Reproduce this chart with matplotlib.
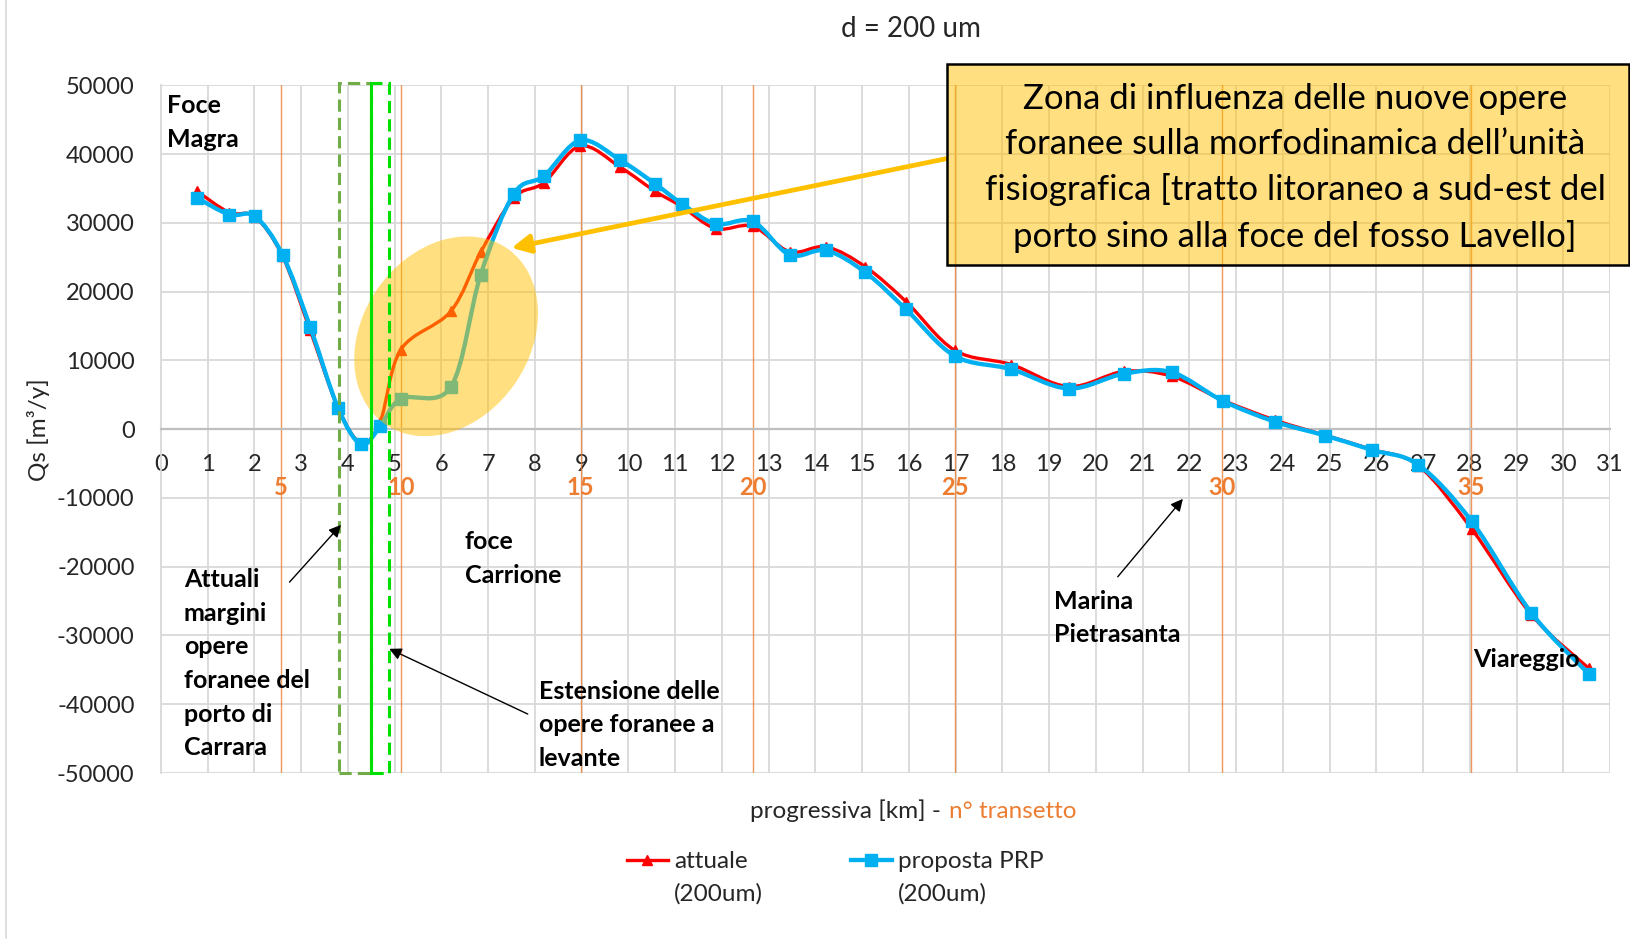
import numpy as np
import matplotlib
matplotlib.use('Agg')
import matplotlib.pyplot as plt
from matplotlib.path import Path
from matplotlib.patches import PathPatch, Ellipse, Rectangle
from matplotlib.lines import Line2D
import matplotlib.transforms as mtransforms

plt.rcParams['font.family'] = ['Lato', 'DejaVu Sans']

# ---------------- data ----------------
km = [0.77, 1.46, 2.01, 2.60, 3.19, 3.79, 4.28, 4.69, 5.13, 6.20, 6.84, 7.55,
      8.19, 8.97, 9.83, 10.57, 11.14, 11.87, 12.66, 13.45, 14.23, 15.07, 15.94,
      16.98, 18.19, 19.42, 20.60, 21.62, 22.72, 23.84, 24.91, 25.90, 26.90,
      28.04, 29.32, 30.55]
attuale = [34600, 31500, 30900, 25150, 14400, 3060, -2000, 1100, 11550, 17140,
           25730, 33640, 35830, 41170, 38070, 34600, 32380, 29160, 29500, 25800,
           26500, 23600, 18550, 11470, 9400, 6200, 8400, 7700, 4200, 1300, -900,
           -2950, -5300, -14500, -27000, -34800]
proposta = [33640, 31200, 30950, 25350, 14900, 3060, -2200, 400, 4420, 6120,
            22480, 34220, 36800, 42000, 39100, 35680, 32800, 29850, 30200, 25350,
            25980, 22800, 17420, 10650, 8720, 5910, 8060, 8280, 4100, 1070, -940,
            -3020, -5190, -13400, -26740, -35620]
transetti = [5, 10, 15, 20, 25, 30, 35]
transetti_km = [2.56, 5.13, 8.98, 12.66, 16.98, 22.70, 28.03]
xticks = list(range(0, 32))
yticks = list(range(-50000, 50001, 10000))

RED = '#FF0000'
BLUE = '#00B0F0'
ORANGE = '#ED7D31'
TXT = '#262626'


def smooth_path(x, y):
    pts = np.column_stack([x, y]).astype(float)
    n = len(pts)
    verts = [pts[0]]
    codes = [Path.MOVETO]
    for i in range(n - 1):
        p0 = pts[i - 1] if i > 0 else pts[i]
        p1 = pts[i]
        p2 = pts[i + 1]
        p3 = pts[i + 2] if i + 2 < n else pts[i + 1]
        verts += [p1 + (p2 - p0) / 6.0, p2 - (p3 - p1) / 6.0, p2]
        codes += [Path.CURVE4] * 3
    return Path(verts, codes)


W, H = 1631, 943
fig = plt.figure(figsize=(W / 100, H / 100), dpi=100)
L, R, T, B = 161, 1610, 85.3, 773
ax = fig.add_axes([L / W, 1 - B / H, (R - L) / W, (B - T) / H])
ax.set_xlim(0, 31)
ax.set_ylim(-50000, 50000)
ax.set_xticks(xticks)
ax.set_yticks(yticks)
ax.set_xticklabels([str(v) for v in xticks])
ax.set_yticklabels([str(v) for v in yticks])
ax.grid(True, color='#D9D9D9', lw=1.3)
ax.set_axisbelow(True)
for s in ['top', 'right']:
    ax.spines[s].set_visible(False)
ax.spines['left'].set_color('#D9D9D9')
ax.spines['left'].set_linewidth(1.3)
ax.spines['bottom'].set_position(('data', 0))
ax.spines['bottom'].set_color('#BFBFBF')
ax.spines['bottom'].set_linewidth(1.6)
ax.tick_params(axis='both', length=0, labelsize=17, labelcolor=TXT)
ax.tick_params(axis='x', pad=18)
ax.tick_params(axis='y', pad=19)

# transect lines + labels
for t, xk in zip(transetti, transetti_km):
    ax.axvline(xk, color=ORANGE, lw=1.0, alpha=0.8, zorder=1)
    ax.text(xk, -8500, str(t), color=ORANGE, fontsize=17, fontweight='bold',
            ha='center', va='center', zorder=6)

# series (smoothed)
ax.add_patch(PathPatch(smooth_path(km, attuale), facecolor='none', edgecolor=RED,
                       lw=2.4, zorder=3, capstyle='round', joinstyle='round'))
ax.plot(km, attuale, linestyle='none', marker='^', color=RED, markersize=7, zorder=3)
ax.add_patch(PathPatch(smooth_path(km, proposta), facecolor='none', edgecolor=BLUE,
                       lw=3.1, zorder=4, capstyle='round', joinstyle='round'))
ax.plot(km, proposta, linestyle='none', marker='s', color=BLUE, markersize=8.5, zorder=4)

# highlighted ellipse (semi transparent)
trans = fig.dpi_scale_trans + mtransforms.ScaledTranslation(6.1, 13500, ax.transData)
ell = Ellipse((0, 0), width=2.14, height=1.67, angle=55, transform=trans,
              facecolor='#FFC000', alpha=0.5, edgecolor='none', zorder=5)
ax.add_patch(ell)

# dashed rectangles
ax.add_patch(Rectangle((3.81, -50000), 0.68, 100300, fill=False, edgecolor='#70AD47',
                       lw=2.2, linestyle=(0, (4, 2)), zorder=6, clip_on=False))
ax.add_patch(Rectangle((4.50, -50000), 0.38, 100300, fill=False, edgecolor='#00E000',
                       lw=2.2, linestyle=(0, (4, 2)), zorder=6, clip_on=False))
ax.plot([4.50, 4.50], [-50000, 50300], color='#00E000', lw=2.2, zorder=6, clip_on=False)

# annotation texts
bold = dict(fontsize=18, fontweight='bold', color='black', zorder=7)
LS = 1.56
ax.text(0.13, 44600, 'Foce\nMagra', ha='left', va='center', linespacing=LS, **bold)
ax.text(0.49, -34100, 'Attuali\nmargini\nopere\nforanee del\nporto di\nCarrara',
        ha='left', va='center', linespacing=LS, **bold)
ax.text(6.50, -18830, 'foce\nCarrione', ha='left', va='center', linespacing=LS, **bold)
ax.text(8.08, -43000, 'Estensione delle\nopere foranee a\nlevante', ha='left',
        va='center', linespacing=LS, **bold)
ax.text(19.11, -27460, 'Marina\nPietrasanta', ha='left', va='center', linespacing=LS, **bold)
ax.text(28.08, -33430, 'Viareggio', ha='left', va='center', **bold)

arrow_kw = dict(arrowstyle='-|>', color='black', lw=1.0, mutation_scale=18)
ax.annotate('', xy=(3.89, -13620), xytext=(2.71, -22540), arrowprops=arrow_kw, zorder=7)
ax.annotate('', xy=(4.83, -31770), xytext=(7.90, -41600), arrowprops=arrow_kw, zorder=7)
ax.annotate('', xy=(21.90, -9830), xytext=(20.43, -21780), arrowprops=arrow_kw, zorder=7)

# yellow arrow to the ellipse
ax.annotate('', xy=(7.50, 26350), xytext=(16.80, 39330),
            arrowprops=dict(arrowstyle='-|>', color='#FFC000', lw=3.4,
                            mutation_scale=28, shrinkA=0, shrinkB=0),
            annotation_clip=False, zorder=8)

# callout box
bx0, by0, bx1, by1 = 946.6, 64.5, 1629.5, 265.0
box = Rectangle((bx0 / W, 1 - by1 / H), (bx1 - bx0) / W, (by1 - by0) / H,
                transform=fig.transFigure, facecolor=(1.0, 0.753, 0.0, 0.5),
                edgecolor='black', lw=1.8, zorder=10)
fig.patches.append(box)
fig.text((bx0 + bx1) / 2 / W + 7 / W, 1 - (by0 + by1) / 2 / H - 3 / H,
         'Zona di influenza delle nuove opere\nforanee sulla morfodinamica dell\u2019unit\u00e0\n'
         'fisiografica [tratto litoraneo a sud-est del\nporto sino alla foce del fosso Lavello]',
         ha='center', va='center', fontsize=25, color='black', linespacing=1.5, zorder=11)

# title & axis labels
fig.text(911 / W, 1 - 29 / H, 'd = 200 um', ha='center', va='center', fontsize=20, color=TXT)
fig.text(941 / W, 1 - 811 / H, 'progressiva [km] -', ha='right', va='center',
         fontsize=17.5, color=TXT)
fig.text(949 / W, 1 - 811 / H, 'n\u00b0 transetto', ha='left', va='center',
         fontsize=17.5, color=ORANGE)
fig.text(38.5 / W, 1 - 429.6 / H, 'Qs [m\u00b3/y]', ha='center', va='center',
         rotation=90, fontsize=17.5, color=TXT)

# legend (manual key)
def key(x0, x1, y, color, marker, ms, lw, label):
    fig.add_artist(Line2D([x0 / W, x1 / W], [1 - y / H, 1 - y / H], color=color, lw=lw,
                          transform=fig.transFigure))
    fig.add_artist(Line2D([(x0 + x1) / 2 / W], [1 - y / H], color=color, marker=marker,
                          markersize=ms, transform=fig.transFigure))
    fig.text((x1 + 6) / W, 1 - (y + 18) / H, label, ha='left', va='center',
             fontsize=17.5, color=TXT, linespacing=1.62)

key(627, 668, 860, RED, '^', 7, 2.4, 'attuale\n(200um)')
key(851, 892, 860, BLUE, 's', 8.5, 3.1, 'proposta PRP\n(200um)')

# thin chart-area border on the left
fig.add_artist(Line2D([6 / W, 6 / W], [0.005, 1.0], color='#D9D9D9', lw=1.2,
                      transform=fig.transFigure))

fig.savefig('out.png', dpi=100)
